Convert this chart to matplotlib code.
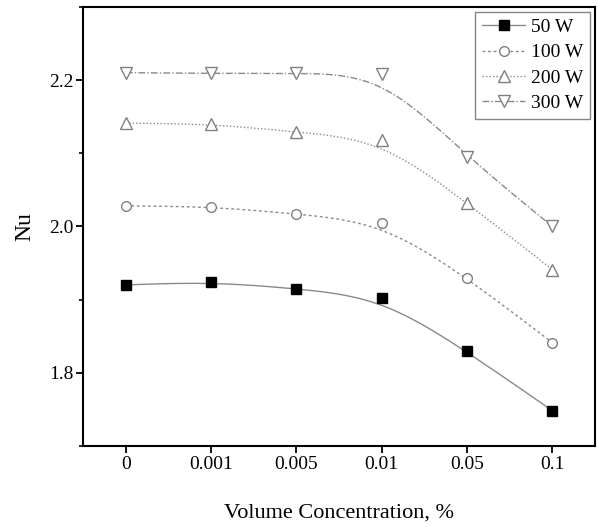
import numpy as np
import matplotlib.pyplot as plt
from matplotlib.ticker import MultipleLocator

plt.rcParams['font.family'] = ['Liberation Serif', 'DejaVu Serif']

conc = ['0', '0.001', '0.005', '0.01', '0.05', '0.1']
nu_50 = [1.920, 1.924, 1.915, 1.902, 1.829, 1.748]
nu_100 = [2.028, 2.027, 2.017, 2.005, 1.930, 1.841]
nu_200 = [2.141, 2.140, 2.129, 2.118, 2.032, 1.941]
nu_300 = [2.210, 2.209, 2.209, 2.208, 2.095, 2.000]


# uniform cubic B-spline using the points as control polygon (Origin style)
def bspline(xs, ys, n=30):
    px = np.concatenate([[xs[0]] * 2, xs, [xs[-1]] * 2])
    py = np.concatenate([[ys[0]] * 2, ys, [ys[-1]] * 2])
    t = np.linspace(0, 1, n)
    b0 = (1 - t) ** 3 / 6
    b1 = (3 * t ** 3 - 6 * t ** 2 + 4) / 6
    b2 = (-3 * t ** 3 + 3 * t ** 2 + 3 * t + 1) / 6
    b3 = t ** 3 / 6
    cx, cy = [], []
    for i in range(len(px) - 3):
        cx.append(b0 * px[i] + b1 * px[i + 1] + b2 * px[i + 2] + b3 * px[i + 3])
        cy.append(b0 * py[i] + b1 * py[i + 1] + b2 * py[i + 2] + b3 * py[i + 3])
    return np.concatenate(cx), np.concatenate(cy)


fig = plt.figure(figsize=(5.98, 5.27), dpi=100)
ax = fig.add_axes([0.139, 0.154, 0.856, 0.833])

x = np.arange(len(conc))
series = [
    (nu_50, '50 W', '-', 's', 'black', 'black', 7),
    (nu_100, '100 W', (0, (2, 2)), 'o', 'white', '#808080', 7),
    (nu_200, '200 W', (0, (1, 1.5)), '^', 'white', '#808080', 8),
    (nu_300, '300 W', (0, (5, 1.5, 1, 1.5)), 'v', 'white', '#808080', 8),
]
for ys, lab, ls, mk, fc, ec, ms in series:
    sx, sy = bspline(x.astype(float), np.array(ys))
    ax.plot(sx, sy, color='#8a8a8a', linestyle=ls, linewidth=1)
    ax.plot(x, ys, linestyle='none', marker=mk, markersize=ms,
            markerfacecolor=fc, markeredgecolor=ec, markeredgewidth=1)

handles = []
for ys, lab, ls, mk, fc, ec, ms in series:
    h, = ax.plot([], [], color='#8a8a8a', linestyle=ls, linewidth=1, marker=mk,
                 markersize=ms, markerfacecolor=fc, markeredgecolor=ec)
    handles.append(h)
leg = ax.legend(handles, [s[1] for s in series], loc='upper right',
                bbox_to_anchor=(0.990, 0.989), fontsize=14, frameon=True,
                fancybox=False, edgecolor='#666666', handlelength=2.2,
                handletextpad=0.3, borderpad=0.35, labelspacing=0.4,
                borderaxespad=0)
leg.get_frame().set_linewidth(1)

ax.set_xlim(-0.5, 5.5)
ax.set_ylim(1.7, 2.3)
ax.set_xticks(x)
ax.set_xticklabels(conc)
ax.set_yticks([1.8, 2.0, 2.2])
ax.yaxis.set_minor_locator(MultipleLocator(0.1))
ax.tick_params(axis='both', which='major', labelsize=14, direction='out',
               length=5, width=1.3, pad=2)
ax.tick_params(axis='y', which='minor', direction='out', length=3, width=1.2)
ax.tick_params(top=False, right=False)
for sp in ax.spines.values():
    sp.set_linewidth(1.5)

ax.set_ylabel('Nu', fontsize=17, labelpad=10)
ax.set_xlabel('Volume Concentration, %', fontsize=16, labelpad=22)

fig.savefig('out.png', dpi=100)
